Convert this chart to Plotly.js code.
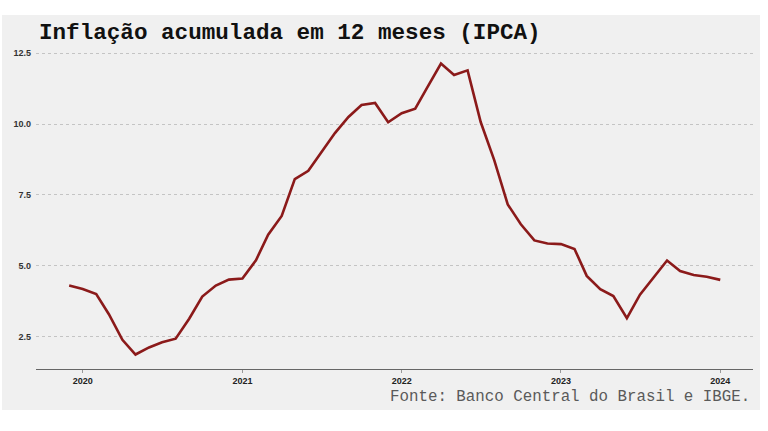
<!DOCTYPE html>
<html>
<head>
<meta charset="utf-8">
<script src="https://cdn.plot.ly/plotly-3.0.1.min.js"></script>
<style>html,body{margin:0;padding:0;background:#fff;}#chart{width:768px;height:431px;}</style>
</head>
<body>
<div id="chart"></div>
<script>
const months = [
  "2019-12-01",
  "2020-01-01","2020-02-01","2020-03-01","2020-04-01","2020-05-01","2020-06-01",
  "2020-07-01","2020-08-01","2020-09-01","2020-10-01","2020-11-01","2020-12-01",
  "2021-01-01","2021-02-01","2021-03-01","2021-04-01","2021-05-01","2021-06-01",
  "2021-07-01","2021-08-01","2021-09-01","2021-10-01","2021-11-01","2021-12-01",
  "2022-01-01","2022-02-01","2022-03-01","2022-04-01","2022-05-01","2022-06-01",
  "2022-07-01","2022-08-01","2022-09-01","2022-10-01","2022-11-01","2022-12-01",
  "2023-01-01","2023-02-01","2023-03-01","2023-04-01","2023-05-01","2023-06-01",
  "2023-07-01","2023-08-01","2023-09-01","2023-10-01","2023-11-01","2023-12-01",
  "2024-01-01"
];
const ipca12m = [
  4.31,
  4.19, 4.01, 3.30, 2.40, 1.88, 2.13,
  2.31, 2.44, 3.14, 3.92, 4.31, 4.52,
  4.56, 5.20, 6.10, 6.76, 8.06, 8.35,
  8.99, 9.68, 10.25, 10.67, 10.74, 10.06,
  10.38, 10.54, 11.30, 12.13, 11.73, 11.89,
  10.07, 8.73, 7.17, 6.47, 5.90, 5.79,
  5.77, 5.60, 4.65, 4.18, 3.94, 3.16,
  3.99, 4.61, 5.19, 4.82, 4.68, 4.62,
  4.51
];
const yTicks = [2.5, 5.0, 7.5, 10.0, 12.5];
const yTickLabels = ["2.5", "5.0", "7.5", "10.0", "12.5"];
const xTicks = ["2020-01-01", "2021-01-01", "2022-01-01", "2023-01-01", "2024-01-01"];
const xTickLabels = ["2020", "2021", "2022", "2023", "2024"];
const titleText = "Inflação acumulada em 12 meses (IPCA)";
const sourceText = "Fonte: Banco Central do Brasil e IBGE.";

const trace = {
  x: months, y: ipca12m, type: "scatter", mode: "lines",
  line: {color: "#8b1a1a", width: 2.6}, hoverinfo: "x+y"
};

const layout = {
  width: 768, height: 431,
  margin: {l: 36, r: 15, t: 40, b: 62, pad: 0},
  paper_bgcolor: "#ffffff",
  plot_bgcolor: "rgba(0,0,0,0)",
  showlegend: false,
  font: {family: "Liberation Sans, Arial, sans-serif", color: "#333"},
  xaxis: {
    type: "date",
    range: ["2019-09-16", "2024-03-16"],
    tickvals: xTicks, ticktext: xTickLabels,
    tickfont: {size: 9, weight: "bold", color: "#222"},
    showgrid: false, zeroline: false,
    showline: true, linecolor: "#666", linewidth: 1,
    ticks: "outside", ticklen: 3, tickcolor: "#999"
  },
  yaxis: {
    range: [1.37, 12.96],
    tickvals: yTicks, ticktext: yTickLabels,
    tickfont: {size: 9, weight: "bold", color: "#333"},
    showgrid: true, gridcolor: "#c4c4c4", gridwidth: 1, griddash: "dot",
    zeroline: false, showline: false, ticks: "", ticklabelstandoff: 4
  },
  shapes: [{
    type: "rect", xref: "paper", yref: "paper", layer: "below",
    x0: -0.0474, x1: 1.0098, y0: -0.1246, y1: 1.076,
    fillcolor: "#f0f0f0", line: {width: 0}
  }],
  annotations: [
    {
      text: "<b>" + titleText + "</b>", xref: "paper", yref: "paper",
      x: 0.001, y: 1.021, xanchor: "left", yanchor: "middle", showarrow: false,
      font: {family: "Liberation Mono, Courier New, monospace", size: 22.6, color: "#111"}
    },
    {
      text: sourceText, xref: "paper", yref: "paper",
      x: 0.9986, y: -0.085, xanchor: "right", yanchor: "middle", showarrow: false,
      font: {family: "Liberation Mono, Courier New, monospace", size: 15.8, color: "#5a5a5a"}
    }
  ]
};

Plotly.newPlot("chart", [trace], layout, {displayModeBar: false, staticPlot: true});
</script>
</body>
</html>
